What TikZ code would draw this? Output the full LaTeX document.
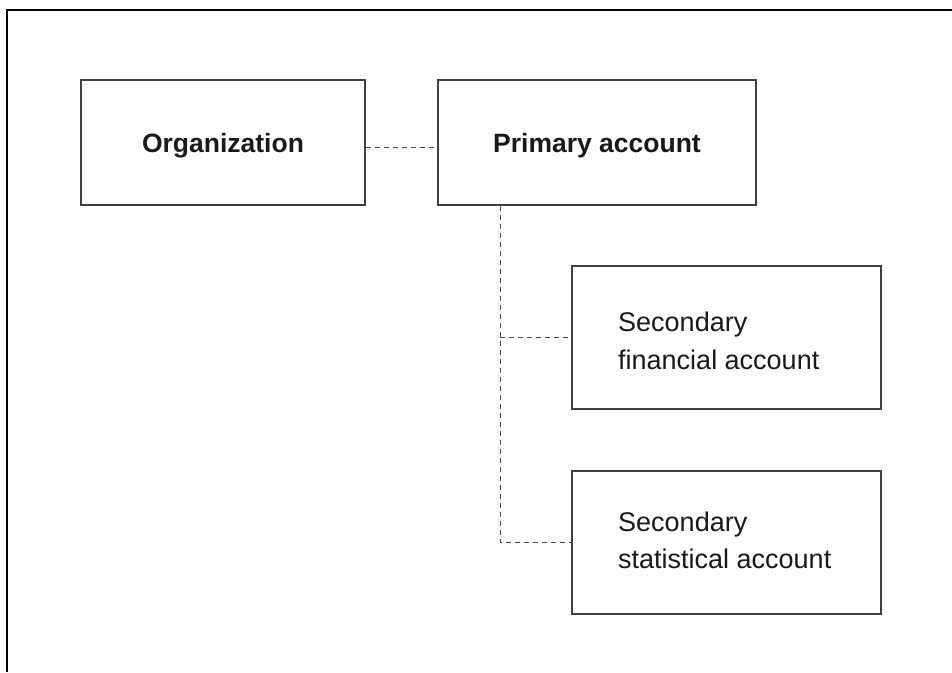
\documentclass[tikz,border=0pt]{standalone}
\usepackage{fontspec}
\setmainfont{Liberation Sans}
\begin{document}
\begin{tikzpicture}[x=1pt,y=-1pt,
  box/.style={draw=black!75, line width=1.2pt, inner sep=0pt},
  boldtxt/.style={font=\fontsize{26.5}{32}\selectfont\bfseries, text=black!90, text height=19pt, text depth=0pt},
  regtxt/.style={font=\fontsize{27}{32}\selectfont, text=black!90, anchor=base west, inner sep=0pt},
  dashline/.style={draw=black!70, line width=1pt, dash pattern=on 5pt off 4pt}]
\useasboundingbox (0,0) rectangle (952,672);
\fill[white] (0,0) rectangle (952,672);
% outer frame (top and left edges visible)
\draw[line width=1.8pt, black] (7,672) -- (7,10) -- (952,10);
% boxes
\node[box, minimum width=284pt, minimum height=125pt, boldtxt] (org) at (223,142.5) {Organization};
\node[box, minimum width=318pt, minimum height=125pt, boldtxt] (prim) at (597,142.5) {Primary account};
\node[box, minimum width=309pt, minimum height=143pt] (sa) at (726.5,337.5) {};
\node[box, minimum width=309pt, minimum height=143pt] (sb) at (726.5,542.5) {};
% texts of secondary boxes
\node[regtxt] (sa1) at (618,331) {Secondary};
\node[regtxt] (sa2) at (618,369) {financial account};
\node[regtxt] (sb1) at (618,531) {Secondary};
\node[regtxt] (sb2) at (618,568) {statistical account};
% connectors
\draw[dashline] ([yshift=-4.5pt]org.east) -- ([yshift=-4.5pt]prim.west);
\coordinate (trunk) at ([xshift=63pt]prim.south west);
\draw[dashline] (trunk) -- (trunk |- sb.west) -- (sb.west);
\draw[dashline] (trunk |- sa.west) -- (sa.west);
\end{tikzpicture}
\end{document}
